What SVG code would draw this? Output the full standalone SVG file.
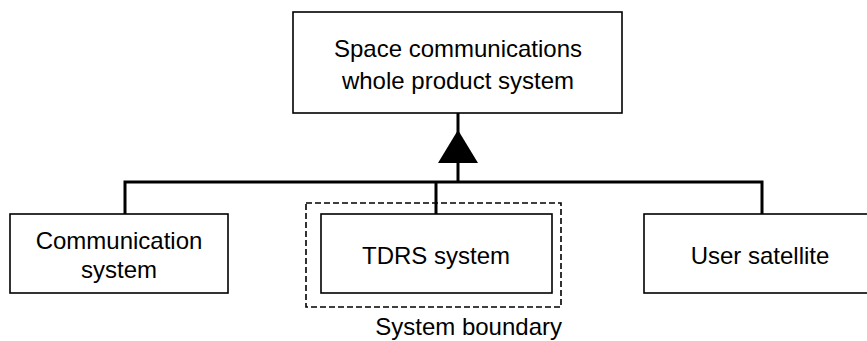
<svg xmlns="http://www.w3.org/2000/svg" width="867" height="341" viewBox="0 0 867 341">
<style>
.box{fill:#fff;stroke:#000;stroke-width:1.6}
.t{font-family:"Liberation Sans",Arial,sans-serif;font-size:24px;fill:#000;text-anchor:middle}
.c{fill:none;stroke:#000;stroke-width:3}
</style>
<rect width="867" height="341" fill="#fff"/>
<g id="connectors">
<path class="c" d="M458 113V182M125 214V182H762V214M436 182V214"/>
<polygon points="458,130 478,163 438,163" fill="#000"/>
</g>
<g id="boundary">
<rect x="306" y="203" width="255" height="104" fill="none" stroke="#000" stroke-width="1.6" stroke-dasharray="6,3"/>
<text class="t" x="562" y="335" style="text-anchor:end">System boundary</text>
</g>
<g id="top">
<rect class="box" x="293" y="12" width="329" height="101"/>
<text class="t" x="458" y="57">Space communications</text>
<text class="t" x="458" y="89">whole product system</text>
</g>
<g id="comm">
<rect class="box" x="10" y="214" width="218" height="79"/>
<text class="t" x="119" y="249">Communication</text>
<text class="t" x="119" y="278">system</text>
</g>
<g id="tdrs">
<rect class="box" x="321" y="214" width="231" height="79"/>
<text class="t" x="436" y="264">TDRS system</text>
</g>
<g id="user">
<rect class="box" x="644" y="214" width="232" height="79"/>
<text class="t" x="760" y="264">User satellite</text>
</g>
</svg>
